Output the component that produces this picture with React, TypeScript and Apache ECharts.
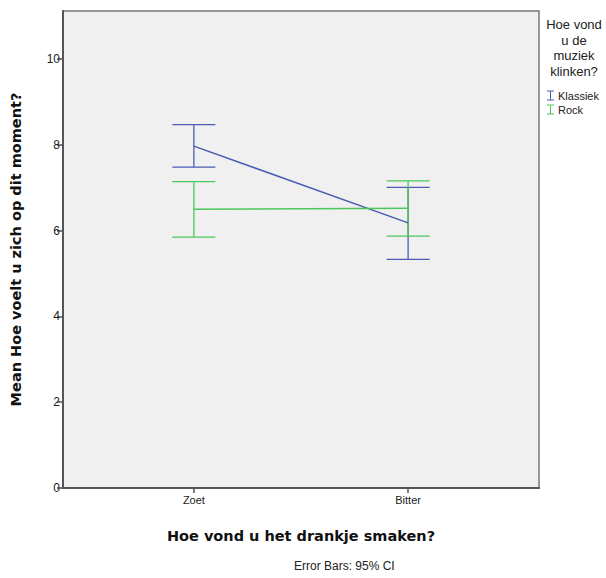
import React, { useEffect, useRef } from "react";
import * as echarts from "echarts";

const categories = ["Zoet", "Bitter"];
const seriesNames = ["Klassiek", "Rock"];
const klassiekMean = [7.97, 6.18];
const klassiekLow = [7.48, 5.33];
const klassiekHigh = [8.47, 7.01];
const rockMean = [6.5, 6.52];
const rockLow = [5.85, 5.87];
const rockHigh = [7.14, 7.16];
const yTicks = [0, 2, 4, 6, 8, 10];

const BLUE = "#4a5db3";
const GREEN = "#4cc75c";

function errorSeries(name: string, color: string, low: number[], high: number[]) {
  return {
    name,
    type: "custom",
    z: 3,
    data: low.map((l, i) => [i, l, high[i]]),
    renderItem: (params: any, api: any) => {
      const x = api.value(0);
      const lo = api.coord([x, api.value(1)]);
      const hi = api.coord([x, api.value(2)]);
      const half = 21.5;
      const style = { stroke: color, lineWidth: 1.3 };
      return {
        type: "group",
        children: [
          { type: "line", shape: { x1: lo[0], y1: lo[1], x2: hi[0], y2: hi[1] }, style },
          { type: "line", shape: { x1: lo[0] - half, y1: lo[1], x2: lo[0] + half, y2: lo[1] }, style },
          { type: "line", shape: { x1: hi[0] - half, y1: hi[1], x2: hi[0] + half, y2: hi[1] }, style },
        ],
      };
    },
  };
}

export default function App() {
  const ref = useRef<HTMLDivElement>(null);
  useEffect(() => {
    const chart = echarts.init(ref.current!, null, { renderer: "svg" });
    const iconPath = "path://M0,0h7v1h-7zM3,0h1v10h-1zM0,9h7v1h-7z";
    chart.setOption({
      animation: false,
      backgroundColor: "#ffffff",
      textStyle: { fontFamily: "Liberation Sans, Arial, sans-serif" },
      grid: {
        left: 62,
        top: 11,
        right: 67,
        bottom: 90,
        show: true,
        backgroundColor: "#f0f0f0",
        borderColor: "#777777",
        borderWidth: 1.5,
      },
      xAxis: {
        type: "value",
        min: -0.611,
        max: 1.611,
        splitLine: { show: false },
        axisLine: { show: true, onZero: false, lineStyle: { color: "#555555", width: 2 } },
        axisTick: { show: true, customValues: [0, 1], length: 5, lineStyle: { color: "#555555", width: 1.5 } },
        axisLabel: {
          customValues: [0, 1],
          formatter: (v: number) => categories[Math.round(v)] ?? "",
          color: "#222222",
          fontSize: 11,
          margin: 6,
        },
        name: "Hoe vond u het drankje smaken?",
        nameLocation: "middle",
        nameGap: 40,
        nameTextStyle: { fontSize: 14.5, fontWeight: "bold", color: "#111111", fontFamily: "DejaVu Sans" },
      },
      yAxis: {
        type: "value",
        min: 0,
        max: 11.12,
        splitLine: { show: false },
        axisLine: { show: true, onZero: false, lineStyle: { color: "#555555", width: 2 } },
        axisTick: { show: true, customValues: yTicks, length: 6, lineStyle: { color: "#555555", width: 1.5 } },
        axisLabel: { customValues: yTicks, color: "#222222", fontSize: 12, margin: 3 },
        name: "Mean Hoe voelt u zich op dit moment?",
        nameLocation: "middle",
        nameGap: 40,
        nameTextStyle: { fontSize: 14.5, fontWeight: "bold", color: "#111111", fontFamily: "DejaVu Sans" },
      },
      legend: {
        orient: "vertical",
        left: 547,
        top: 90,
        padding: 0,
        itemWidth: 7,
        itemHeight: 10,
        itemGap: 3,
        textStyle: { fontSize: 11, color: "#222222", padding: [0, 0, 0, -1] },
        data: [
          { name: seriesNames[0], icon: iconPath, itemStyle: { color: BLUE } },
          { name: seriesNames[1], icon: iconPath, itemStyle: { color: GREEN } },
        ],
      },
      graphic: [
        {
          type: "text",
          x: 574,
          y: 17,
          style: {
            text: "Hoe vond\nu de\nmuziek\nklinken?",
            align: "center",
            verticalAlign: "top",
            fill: "#222222",
            fontSize: 13,
            lineHeight: 15.5,
            fontFamily: "Liberation Sans, Arial, sans-serif",
          },
        },
        {
          type: "text",
          left: 294,
          top: 560,
          style: {
            text: "Error Bars: 95% CI",
            fill: "#222222",
            fontSize: 12,
            fontFamily: "Liberation Sans, Arial, sans-serif",
          },
        },
      ],
      series: [
        {
          name: seriesNames[0],
          type: "line",
          data: klassiekMean.map((v, i) => [i, v]),
          symbol: "none",
          lineStyle: { color: BLUE, width: 1.5 },
          itemStyle: { color: BLUE },
          z: 4,
        },
        {
          name: seriesNames[1],
          type: "line",
          data: rockMean.map((v, i) => [i, v]),
          symbol: "none",
          lineStyle: { color: GREEN, width: 1.5 },
          itemStyle: { color: GREEN },
          z: 4,
        },
        errorSeries(seriesNames[0], BLUE, klassiekLow, klassiekHigh),
        errorSeries(seriesNames[1], GREEN, rockLow, rockHigh),
      ],
    });
    return () => chart.dispose();
  }, []);
  return <div ref={ref} style={{ width: 606, height: 578, position: "absolute", left: 0, top: 0 }} />;
}
